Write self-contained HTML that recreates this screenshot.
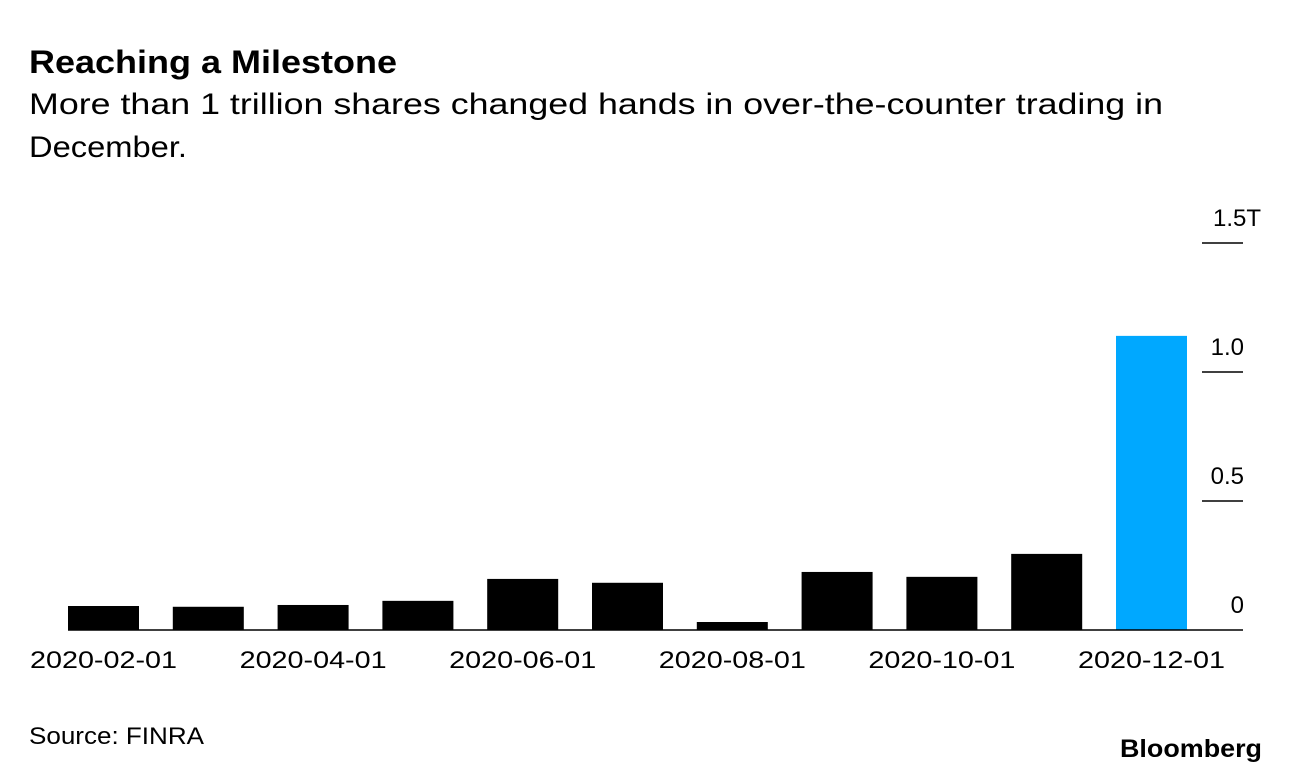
<!DOCTYPE html>
<html><head><meta charset="utf-8"><style>
body{margin:0;background:#fff;font-family:"Liberation Sans",Arial,sans-serif;}
svg{display:block}
</style></head><body>
<svg width="1289" height="774">
<text x="29" y="73" font-size="32" font-weight="bold" fill="#000" textLength="368" lengthAdjust="spacingAndGlyphs">Reaching a Milestone</text>
<text x="29" y="114" font-size="30" fill="#000" textLength="1134" lengthAdjust="spacingAndGlyphs">More than 1 trillion shares changed hands in over-the-counter trading in</text>
<text x="29" y="157" font-size="30" fill="#000" textLength="158" lengthAdjust="spacingAndGlyphs">December.</text>
<g id="plot"></g>
<text x="29" y="744" font-size="24" fill="#000" textLength="175" lengthAdjust="spacingAndGlyphs">Source: FINRA</text>
<text x="1120" y="757" font-size="25" font-weight="bold" fill="#000" textLength="142" lengthAdjust="spacingAndGlyphs">Bloomberg</text>
</svg>
<script>
const categories=["2020-02-01","2020-03-01","2020-04-01","2020-05-01","2020-06-01","2020-07-01","2020-08-01","2020-09-01","2020-10-01","2020-11-01","2020-12-01"];
const values=[0.093,0.090,0.097,0.113,0.198,0.183,0.031,0.225,0.206,0.295,1.14];
const yTicks=[0,0.5,1.0,1.5];
const yTickLabels=["0","0.5","1.0","1.5T"];
const xLabelIdx=[0,2,4,6,8,10];
const ns="http://www.w3.org/2000/svg";
const g=document.getElementById("plot");
const y0=630,pxPerT=258,x0=68,step=104.8,bw=71;
const yS=v=>y0-v*pxPerT;
const xS=i=>x0+i*step;
function mk(t,a){const e=document.createElementNS(ns,t);for(const k in a)e.setAttribute(k,a[k]);g.appendChild(e);return e;}
values.forEach((v,i)=>{
 const r=mk("rect",{x:xS(i),y:yS(v),width:bw,height:y0-yS(v),fill:i===values.length-1?"#00a8ff":"#000"});
 
 
});
const base=mk("line",{x1:68,x2:1243,y1:y0,y2:y0,stroke:"#000","stroke-width":1.5});


yTicks.forEach((t,i)=>{
 if(t>0){const l=mk("line",{x1:1202,x2:1243,y1:yS(t),y2:yS(t),stroke:"#000","stroke-width":1.5});
 
 }
 const lab=yTickLabels[i];
 const tx=mk("text",{x:lab.endsWith("T")?1261:1244,y:yS(t)-17,"font-size":24,"text-anchor":"end",fill:"#000"});
 tx.textContent=lab;
 
 
});
xLabelIdx.forEach(i=>{
 const tx=mk("text",{x:xS(i)+bw/2-73.5,y:668,"font-size":24,fill:"#000",textLength:147,lengthAdjust:"spacingAndGlyphs"});
 tx.textContent=categories[i];
 
 
});
</script>
</body></html>
